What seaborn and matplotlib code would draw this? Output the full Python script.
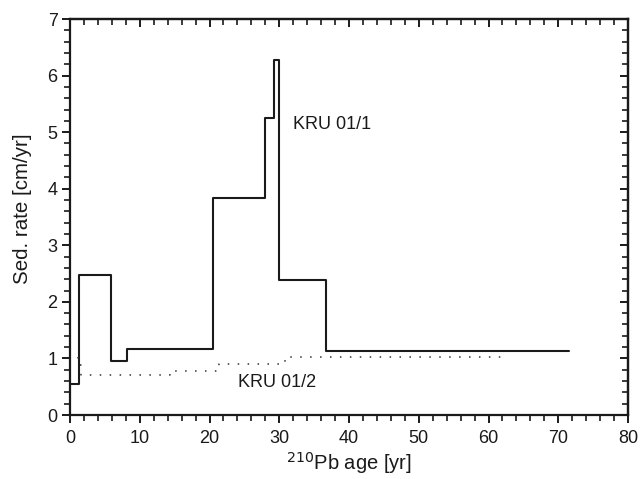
import matplotlib
matplotlib.use("Agg")
import matplotlib.pyplot as plt
import seaborn as sns
import pandas as pd
from matplotlib.ticker import MultipleLocator

sns.set_theme(style="ticks")
plt.rcParams['font.family'] = ['Liberation Sans', 'DejaVu Sans']

# KRU 01/1 step function (left edges + last end), sed. rate values
kru1_age = [0, 1.3, 5.9, 8.1, 20.5, 28.0, 29.3, 30.0, 36.7, 71.6]
kru1_rate = [0.55, 2.47, 0.95, 1.17, 3.83, 5.25, 6.27, 2.38, 1.13, 1.13]

# KRU 01/2 step function
kru2_age = [1.1, 1.1, 1.6, 14.3, 21.4, 30.8, 62.1]
kru2_rate = [1.02, 0.88, 0.70, 0.78, 0.90, 1.02, 1.02]

df1 = pd.DataFrame({"age": kru1_age, "rate": kru1_rate})
df2 = pd.DataFrame({"age": kru2_age, "rate": kru2_rate})

fig = plt.figure(figsize=(6.43, 4.79), dpi=100)
ax = fig.add_axes([0.1089, 0.1336, 0.8678, 0.8267])

sns.lineplot(data=df1, x="age", y="rate", ax=ax, estimator=None, sort=False,
             drawstyle="steps-post", color="#1a1a1a", lw=1.5)
sns.lineplot(data=df2, x="age", y="rate", ax=ax, estimator=None, sort=False,
             drawstyle="steps-post", color="#333333", lw=1.1,
             linestyle=(0, (1, 5.5)))

ax.set_xlim(0, 80)
ax.set_ylim(0, 7)
ax.xaxis.set_major_locator(MultipleLocator(10))
ax.xaxis.set_minor_locator(MultipleLocator(2))
ax.yaxis.set_major_locator(MultipleLocator(1))
ax.yaxis.set_minor_locator(MultipleLocator(0.2))

for s in ax.spines.values():
    s.set_color("#1a1a1a")
    s.set_linewidth(1.6)

ax.tick_params(axis="both", which="both", direction="out", top=False, right=False,
               colors="#1a1a1a", labelsize=13)
ax.tick_params(which="major", length=6, width=1.4)
ax.tick_params(which="minor", length=4, width=1.2)
ax.tick_params(axis="x", pad=5)
ax.tick_params(axis="y", pad=3)

# inward ticks on top and right
ax_top = ax.secondary_xaxis("top")
ax_top.xaxis.set_major_locator(MultipleLocator(10))
ax_top.xaxis.set_minor_locator(MultipleLocator(2))
ax_top.tick_params(which="both", direction="in", labeltop=False, colors="#1a1a1a")
ax_top.tick_params(which="major", length=6, width=1.4)
ax_top.tick_params(which="minor", length=4, width=1.2)
ax_top.spines["top"].set_linewidth(1.6)
ax_right = ax.secondary_yaxis("right")
ax_right.yaxis.set_major_locator(MultipleLocator(1))
ax_right.yaxis.set_minor_locator(MultipleLocator(0.2))
ax_right.tick_params(which="both", direction="in", labelright=False, colors="#1a1a1a")
ax_right.tick_params(which="major", length=6, width=1.4)
ax_right.tick_params(which="minor", length=4, width=1.2)
ax_right.spines["right"].set_linewidth(1.6)

ax.set_xlabel(r"$^{210}$Pb age [yr]", fontsize=14.5, color="#1a1a1a")
ax.xaxis.set_label_coords(0.5, -0.088)
ax.xaxis.label.set_va("top")
ax.set_ylabel("Sed. rate [cm/yr]", fontsize=14.8, color="#1a1a1a")
ax.yaxis.set_label_coords(-0.068, 0.52)

ax.text(32.0, 5.14, "KRU 01/1", fontsize=13, color="#1a1a1a", va="center", ha="left")
ax.text(24.1, 0.57, "KRU 01/2", fontsize=13, color="#1a1a1a", va="center", ha="left")

fig.savefig("out.png", dpi=100)
